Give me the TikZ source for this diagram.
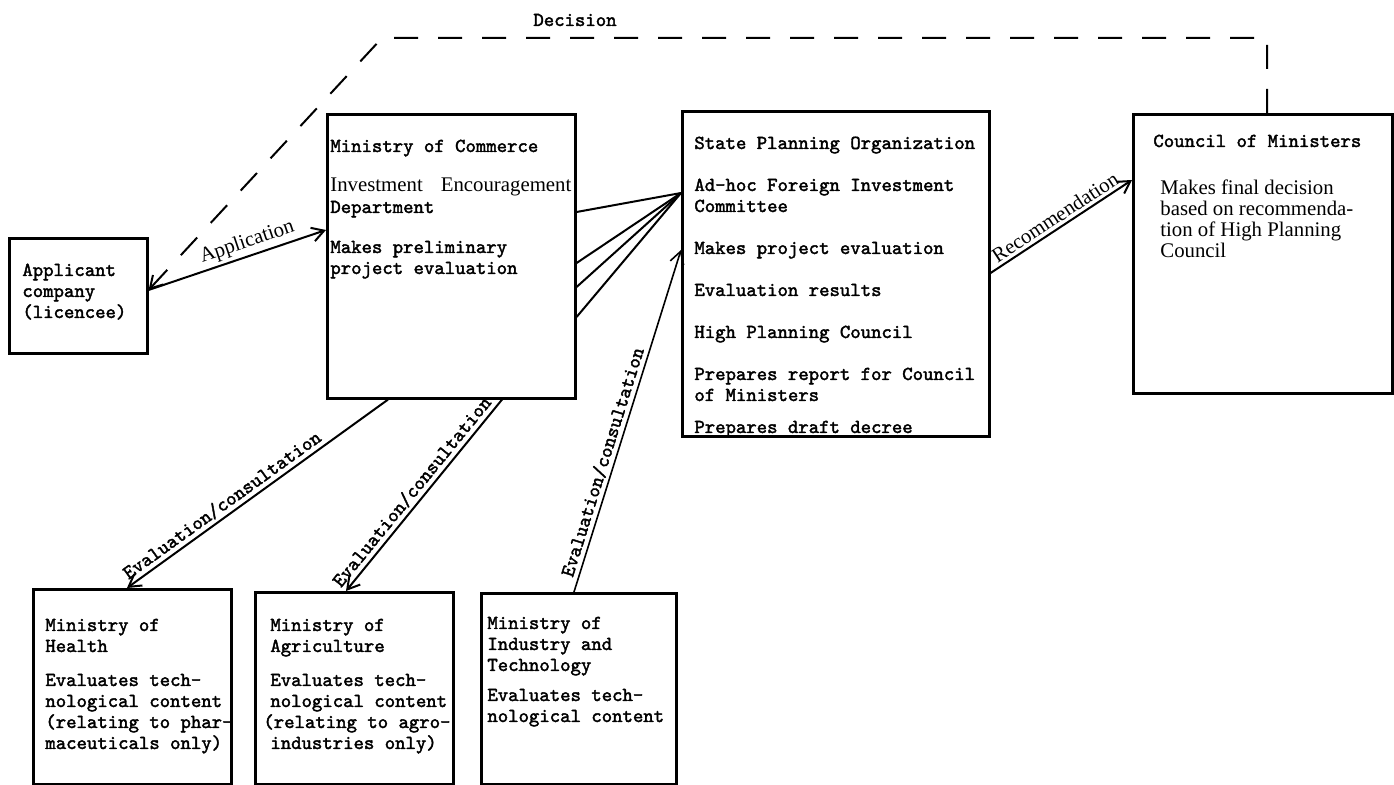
\documentclass[tikz,border=0pt]{standalone}
\usepackage{fontspec}
\setmainfont{Liberation Serif}
\newfontfamily\twfont{lmmono10-regular.otf}[FakeBold=2]
\usetikzlibrary{arrows.meta}

\newcommand{\tw}{\twfont\fontsize{9.9}{10.5}\selectfont}
\newcommand{\romn}{\rmfamily\fontsize{10.4}{10.5}\selectfont}

\begin{document}
\begin{tikzpicture}[x=0.5pt,y=-0.5pt,
  box/.style={draw,line width=1.3pt,anchor=north west,inner sep=0pt},
  boxtext/.style={anchor=base west,align=left,inner sep=0pt,font=\tw},
  conn/.style={line width=1pt},
  arr/.style={conn,-{Straight Barb[length=6pt,width=7pt]}},
  rarr/.style={conn,{Straight Barb[length=6pt,width=7pt]}-},
  lbl/.style={sloped,above,inner sep=1.5pt}]
\useasboundingbox (0,0) rectangle (1394,785);

\node[box,minimum width=69pt,minimum height=57.5pt] (app) at (8,237) {};
\node[box,minimum width=124pt,minimum height=142pt] (com) at (326,113) {};
\node[box,minimum width=153.5pt,minimum height=162.5pt] (spo) at (681,110) {};
\node[box,minimum width=129.5pt,minimum height=139.5pt] (cou) at (1132,113) {};
\node[box,minimum width=99pt,minimum height=97.5pt] (hea) at (32,588) {};
\node[box,minimum width=99pt,minimum height=96pt] (agr) at (254,591) {};
\node[box,minimum width=97.5pt,minimum height=95.5pt] (ind) at (480,592) {};

% text nodes sit on the baseline of their last line
\node[boxtext] (apptxt) at (22,318) {Applicant\\company\\(licencee)};
\node[boxtext] (comtxt) at (330,274) {Ministry of Commerce\\[9.5pt]
  {\romn Investment\hspace{9pt}Encouragement}\\Department\\[9.5pt]
  Makes preliminary\\project evaluation};
\node[boxtext] (spotxt) at (694,433) {State Planning Organization\\[10.5pt]
  Ad-hoc Foreign Investment\\Committee\\[10.5pt]
  Makes project evaluation\\[10.5pt]
  Evaluation results\\[10.5pt]
  High Planning Council\\[10.5pt]
  Prepares report for Council\\of Ministers\\[5.5pt]
  Prepares draft decree};
\node[boxtext] (coutxt) at (1153,147) {Council of Ministers};
\node[boxtext,font=\romn] (coudesc) at (1160,258) {Makes final decision\\based on recommenda-\\tion of High Planning\\Council};
\node[boxtext] (heatxt) at (45,749) {Ministry of\\Health\\[6.5pt]
  Evaluates tech-\\nological content\\(relating to phar-\\maceuticals only)};
\node[boxtext] (agrtxt) at (270,749) {Ministry of\\Agriculture\\[6.5pt]
  Evaluates tech-\\nological content\\\hspace*{-3.5pt}(relating to agro-\\industries only)};
\node[boxtext] (indtxt) at (487,722) {Ministry of\\Industry and\\Technology\\[4.5pt]
  Evaluates tech-\\nological content};

\node[font=\tw] (dec) at (575,20) {Decision};
\coordinate (dcorner) at (382,38);
\draw[arr,dash pattern=on 12pt off 10pt] (cou.north -| 1267,0) |- (dcorner) -- (app.east |- 0,290);

\draw[arr] (app.east |- 0,290) -- (com.west |- 0,230)
  node[lbl,pos=0.58,font=\romn] {Application};

\foreach \y in {212,263,287,317}
  \draw[conn] (com.east |- 0,\y) -- (spo.west |- 0,193);

\draw[arr] (spo.east |- 0,273) -- (cou.west |- 0,180)
  node[lbl,pos=0.5,font=\romn] {Recommendation};

\draw[rarr] (hea.north -| 127,0) -- (com.south -| 388,0)
  node[lbl,pos=0.39,font=\tw] {Evaluation/consultation};
\draw[rarr] (agr.north -| 346,0) -- (com.south -| 502,0)
  node[lbl,pos=0.48,font=\tw] {Evaluation/consultation};
\draw[arr,line width=0.8pt] (ind.north -| 574,0) -- (spo.west |- 0,250)
  node[lbl,pos=0.37,font=\tw] {Evaluation/consultation};

\end{tikzpicture}
\end{document}
